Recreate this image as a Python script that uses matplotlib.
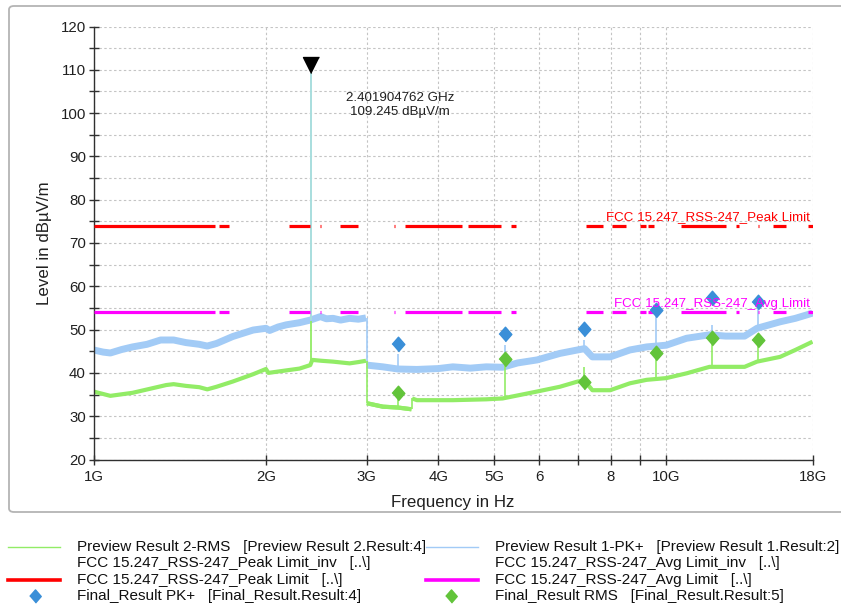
import matplotlib
matplotlib.use('Agg')
import matplotlib.pyplot as plt
from matplotlib.patches import FancyBboxPatch
from matplotlib.lines import Line2D
from matplotlib.ticker import FixedLocator, FixedFormatter, NullLocator, MultipleLocator

plt.rcParams['font.family'] = ['Liberation Sans', 'DejaVu Sans']

# ---------------- data (frequency in GHz, level in dBuV/m) ----------------
# preview PK+ trace, split at the 3 GHz range change
pk_freq_a = [1.0, 1.04, 1.07, 1.12, 1.17, 1.24, 1.31, 1.38, 1.45, 1.53, 1.58, 1.64, 1.75, 1.9,
             2.0, 2.03, 2.1, 2.17, 2.29, 2.39, 2.49, 2.55, 2.62, 2.7, 2.8, 2.9, 2.99]
pk_level_a = [45.3, 44.8, 44.6, 45.4, 46.0, 46.6, 47.6, 47.6, 47.0, 46.6, 46.2, 46.8, 48.4,
              49.9, 50.3, 49.8, 50.6, 51.1, 51.6, 52.2, 53.0, 52.5, 52.6, 52.2, 52.6, 52.4, 52.7]
pk_freq_b = [3.0, 3.2, 3.4, 3.67, 4.0, 4.24, 4.55, 4.85, 5.18, 5.5, 5.95, 6.52, 7.0, 7.2,
             7.43, 7.98, 8.64, 9.24, 10.0, 10.85, 11.9, 12.7, 13.7, 14.4, 15.8, 16.8, 18.0]
pk_level_b = [41.8, 41.4, 40.9, 40.8, 41.0, 41.4, 41.1, 41.4, 41.3, 42.3, 43.0, 44.5, 45.3,
              45.6, 43.7, 43.7, 45.3, 46.0, 46.4, 48.0, 48.8, 48.5, 48.5, 50.3, 51.8, 52.6, 53.8]

# preview RMS trace, split at 3 GHz and 3.6 GHz
rms_freq_a = [1.0, 1.07, 1.17, 1.34, 1.38, 1.45, 1.53, 1.58, 1.64, 1.75, 1.9, 2.0, 2.02, 2.15,
              2.29, 2.39, 2.41, 2.5, 2.62, 2.8, 2.9, 2.99]
rms_level_a = [35.7, 34.7, 35.4, 37.2, 37.4, 37.0, 36.7, 36.2, 36.8, 38.0, 39.7, 40.9, 40.0,
               40.5, 41.0, 41.8, 43.0, 42.8, 42.6, 42.2, 42.5, 42.8]
rms_freq_b = [3.0, 3.2, 3.4, 3.59]
rms_level_b = [33.0, 32.2, 32.0, 31.6]
rms_freq_c = [3.6, 3.67, 4.24, 4.85, 5.18, 5.95, 6.52, 7.0, 7.2, 7.43, 7.98, 8.64, 9.24, 10.0,
              10.85, 11.9, 12.7, 13.7, 14.4, 15.8, 16.8, 18.0]
rms_level_c = [34.1, 33.7, 33.7, 33.9, 34.1, 35.7, 36.8, 38.0, 38.2, 36.0, 36.0, 37.6, 38.4,
               38.8, 39.9, 41.4, 41.4, 41.4, 42.6, 43.7, 45.3, 47.2]

# final measurement results
final_freq = [3.397, 5.228, 7.193, 9.595, 12.03, 14.44]
final_pk = [46.7, 48.9, 50.2, 54.5, 57.4, 56.4]
final_rms = [35.3, 43.2, 37.9, 44.5, 48.0, 47.5]
# spikes of the preview traces at the final frequencies
pk_stem_base = [41.2, 41.3, 45.5, 46.2, 48.6, 50.3]
pk_stem_top = [44.3, 46.4, 47.5, 54.0, 51.0, 55.0]
rms_stem_base = [31.8, 34.2, 37.5, 38.6, 41.4, 42.6]
rms_stem_top = [35.0, 43.0, 41.4, 44.0, 47.5, 46.5]

# marker
marker_freq = 2.401904762
marker_level = 109.245
marker_pk_base = 52.2
marker_rms_top = 52.0
marker_rms_base = 42.0

# limits (restricted bands)
peak_limit = 74.0
avg_limit = 54.0
band_start = [1.0, 1.656, 2.19, 2.4835, 2.69, 3.3458, 3.5, 4.5, 5.35, 7.25, 8.025, 9.0, 9.3,
              10.6, 13.25, 14.47, 15.35, 17.7]
band_stop = [1.6265, 1.7222, 2.39, 2.5, 2.9, 3.358, 4.4, 5.15, 5.46, 7.75, 8.5, 9.2, 9.5,
             12.7, 13.4, 14.5, 16.2, 18.0]

xtick_vals = [1, 2, 3, 4, 5, 6, 7, 8, 9, 10, 18]
xtick_labels = ['1G', '2G', '3G', '4G', '5G', '6', '', '8', '', '10G', '18G']

# ---------------- styles ----------------
C_PK = '#a2cbf6'
C_RMS = '#92ec66'
C_PK_D = '#3a8fd8'
C_RMS_D = '#62c43a'
C_MARK = '#a8dede'
C_PEAK = '#ff0000'
C_AVG = '#ff00ff'
GRID = '#c4c4c4'

W, H = 841, 608
fig = plt.figure(figsize=(W / 100, H / 100), dpi=100)

# outer frame
frame = FancyBboxPatch((9 / W, 1 - 512 / H), (850 - 9) / W, (512 - 6) / H,
                       boxstyle='round,pad=0,rounding_size=0.006',
                       transform=fig.transFigure, fc='none', ec='#b4b4b4', lw=1.3, zorder=-5)
fig.patches.append(frame)

ax = fig.add_axes([93.5 / W, 1 - 459.5 / H, 719 / W, 433 / H])
ax.set_facecolor('none')
ax.set_xscale('log')
ax.set_xlim(1.0, 18.0)
ax.set_ylim(20, 120)

# grid
ax.xaxis.set_major_locator(FixedLocator(xtick_vals))
ax.xaxis.set_major_formatter(FixedFormatter(xtick_labels))
ax.xaxis.set_minor_locator(NullLocator())
ax.yaxis.set_major_locator(MultipleLocator(10))
ax.yaxis.set_minor_locator(MultipleLocator(5))
ax.grid(True, which='major', axis='both', color=GRID, linestyle=(0, (2.2, 2.2)), lw=0.8)
ax.grid(True, which='minor', axis='y', color=GRID, linestyle=(0, (2.2, 2.2)), lw=0.8)
ax.set_axisbelow(True)
for s in ['top', 'right']:
    ax.spines[s].set_visible(False)
for s in ['left', 'bottom']:
    ax.spines[s].set_color('#303030')
    ax.spines[s].set_linewidth(1.0)
ax.tick_params(which='both', direction='inout', length=7, width=1.0, color='#303030',
               labelsize=10.8, labelcolor='#202020', pad=2)
ax.tick_params(axis='x', pad=4)

# limit lines
ax.hlines([peak_limit] * len(band_start), band_start, band_stop, colors=C_PEAK, lw=2.3,
          zorder=3)
ax.hlines([avg_limit] * len(band_start), band_start, band_stop, colors=C_AVG, lw=2.3,
          zorder=3)
ax.text(17.82, peak_limit + 0.5, 'FCC 15.247_RSS-247_Peak Limit', color=C_PEAK,
        ha='right', va='bottom', fontsize=9.6, zorder=5)
ax.text(17.82, avg_limit + 0.5, 'FCC 15.247_RSS-247_Avg Limit', color=C_AVG,
        ha='right', va='bottom', fontsize=9.6, zorder=5)

# preview traces (thick noisy band) with thin vertical range jumps
def trace(fa, la, fb, lb, color, lw, z):
    ax.plot(fa, la, color=color, lw=lw, solid_joinstyle='round', solid_capstyle='butt',
            zorder=z)
    ax.plot(fb, lb, color=color, lw=lw, solid_joinstyle='round', solid_capstyle='butt',
            zorder=z)
    ax.vlines([fb[0]], [min(la[-1], lb[0])], [max(la[-1], lb[0])], colors=color, lw=1.2,
              zorder=z)

trace(pk_freq_a, pk_level_a, pk_freq_b, pk_level_b, C_PK, 5.0, 2)
trace(rms_freq_a, rms_level_a, rms_freq_b, rms_level_b, C_RMS, 3.0, 2.5)
trace(rms_freq_b, rms_level_b, rms_freq_c, rms_level_c, C_RMS, 3.0, 2.5)
ax.vlines(final_freq, pk_stem_base, pk_stem_top, colors=C_PK, lw=1.2, zorder=2)
ax.vlines(final_freq, rms_stem_base, rms_stem_top, colors=C_RMS, lw=1.2, zorder=2.5)

# marker spike
ax.vlines([marker_freq], [marker_rms_base], [marker_rms_top], colors=C_RMS, lw=1.3, zorder=2.6)
ax.vlines([marker_freq], [marker_pk_base], [marker_level], colors=C_MARK, lw=1.4, zorder=2.7)
tri = [(0, 0), (-1, 2), (1, 2)]
ax.plot([marker_freq], [marker_level], marker=tri, ms=23, color='black', mec='black',
        zorder=6, clip_on=False)
ax.text(3.43, 101.9, f'{marker_freq:.9f} GHz\n{marker_level:.3f} dBµV/m', ha='center',
        va='center', fontsize=9.6, color='#202020', linespacing=1.15)

# final results
dia = [(0, -1.15), (1, 0), (0, 1.15), (-1, 0)]
ax.plot(final_freq, final_pk, ls='none', marker=dia, ms=10.5, color=C_PK_D, zorder=4)
ax.plot(final_freq, final_rms, ls='none', marker=dia, ms=10.5, color=C_RMS_D, zorder=4)

ax.set_xlabel('Frequency in Hz', fontsize=12.2, color='#202020', labelpad=8)
ax.set_ylabel('Level in dBµV/m', fontsize=12.2, color='#202020', labelpad=6)

# ---------------- legend (below the panel) ----------------
rows = [547, 563, 580, 596]
fs = 11
def fy(py):
    return 1 - py / H

def handle_line(x0, x1, py, color, lw):
    fig.add_artist(Line2D([x0 / W, x1 / W], [fy(py), fy(py)], color=color, lw=lw,
                          transform=fig.transFigure))

def handle_marker(px, py, color):
    fig.add_artist(Line2D([px / W], [fy(py)], marker=dia, ms=9.5, color=color, ls='none',
                          transform=fig.transFigure))

left_text = ['Preview Result 2-RMS   [Preview Result 2.Result:4]',
             'FCC 15.247_RSS-247_Peak Limit_inv   [..\\]',
             'FCC 15.247_RSS-247_Peak Limit   [..\\]',
             'Final_Result PK+   [Final_Result.Result:4]']
right_text = ['Preview Result 1-PK+   [Preview Result 1.Result:2]',
              'FCC 15.247_RSS-247_Avg Limit_inv   [..\\]',
              'FCC 15.247_RSS-247_Avg Limit   [..\\]',
              'Final_Result RMS   [Final_Result.Result:5]']
for py, lt, rt in zip(rows, left_text, right_text):
    fig.text(77 / W, fy(py), lt, fontsize=fs, va='center', ha='left', color='#101010')
    fig.text(495 / W, fy(py), rt, fontsize=fs, va='center', ha='left', color='#101010')

handle_line(8, 60, rows[0], C_RMS, 1.0)
handle_line(426, 478, rows[0], C_PK, 1.0)
handle_line(8, 60, rows[2], C_PEAK, 2.6)
handle_line(426, 478, rows[2], C_AVG, 2.6)
handle_marker(35, rows[3], C_PK_D)
handle_marker(451, rows[3], C_RMS_D)

fig.savefig('out.png', dpi=100)
